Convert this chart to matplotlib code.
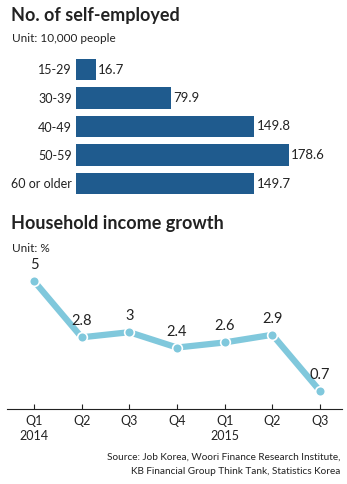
import matplotlib
matplotlib.use("Agg")
import matplotlib.pyplot as plt

plt.rcParams["font.family"] = ["Lato", "DejaVu Sans"]

# ── Data ────────────────────────────────────────────────────
age_groups = ["15-29", "30-39", "40-49", "50-59", "60 or older"]
self_employed = [16.7, 79.9, 149.8, 178.6, 149.7]

quarters = ["Q1\n2014", "Q2", "Q3", "Q4", "Q1\n2015", "Q2", "Q3"]
income_growth = [5, 2.8, 3, 2.4, 2.6, 2.9, 0.7]
growth_labels = ["5", "2.8", "3", "2.4", "2.6", "2.9", "0.7"]

BAR_COLOR = "#1f5b8e"
LINE_COLOR = "#80c8dc"
TEXT_COLOR = "#222222"

W, H = 347, 484
fig = plt.figure(figsize=(W / 100, H / 100), dpi=100, facecolor="white")


def px_axes(left, top, right, bottom):
    return fig.add_axes([left / W, 1 - bottom / H, (right - left) / W, (bottom - top) / H])


# ── Titles ──────────────────────────────────────────────────
fig.text(11 / W, 1 - 16 / H, "No. of self-employed", fontsize=13, fontweight="bold",
         color=TEXT_COLOR, va="center", ha="left")
fig.text(12 / W, 1 - 38 / H, "Unit: 10,000 people", fontsize=8.5,
         color=TEXT_COLOR, va="center", ha="left")
fig.text(11 / W, 1 - 223 / H, "Household income growth", fontsize=13, fontweight="bold",
         color=TEXT_COLOR, va="center", ha="left")
fig.text(12 / W, 1 - 249 / H, "Unit: %", fontsize=8.5,
         color=TEXT_COLOR, va="center", ha="left")

# ── Bar chart ───────────────────────────────────────────────
ax1 = px_axes(76, 55.25, 340, 197.75)
ypos = range(len(age_groups))
ax1.barh(ypos, self_employed, height=0.74, color=BAR_COLOR, left=0)
ax1.set_xlim(0, 221.7)
ax1.set_ylim(4.5, -0.5)
ax1.set_yticks(list(ypos))
ax1.set_yticklabels(age_groups, fontsize=9, color=TEXT_COLOR)
ax1.tick_params(axis="y", length=0, pad=3)
ax1.set_xticks([])
for s in ax1.spines.values():
    s.set_visible(False)
for y, v in zip(ypos, self_employed):
    ax1.text(v + 2, y, f"{v}", va="center", ha="left", fontsize=9.5, color=TEXT_COLOR)

# ── Line chart ──────────────────────────────────────────────
ax2 = px_axes(7, 260, 342, 409)
xs = range(len(quarters))
ax2.plot(xs, income_growth, color=LINE_COLOR, linewidth=4.5, solid_capstyle="butt",
         marker="o", markersize=7, markerfacecolor=LINE_COLOR,
         markeredgecolor="white", markeredgewidth=1.2, zorder=3)
ax2.set_xlim(-0.566, 6.46)
ax2.set_ylim(0, 5.82)
for x, y, lab in zip(xs, income_growth, growth_labels):
    ax2.annotate(lab, (x, y), xytext=(0, 6.5), textcoords="offset points",
                 ha="center", va="bottom", fontsize=10.5, color=TEXT_COLOR, zorder=4)
ax2.set_xticks(list(xs))
ax2.set_xticklabels(quarters, fontsize=9, color=TEXT_COLOR, linespacing=1.35)
ax2.tick_params(axis="x", direction="in", length=3.5, width=0.8, color=TEXT_COLOR, pad=4)
ax2.set_yticks([])
for side in ("left", "right", "top"):
    ax2.spines[side].set_visible(False)
ax2.spines["bottom"].set_color(TEXT_COLOR)
ax2.spines["bottom"].set_linewidth(0.8)
ax2.patch.set_alpha(0)

# ── Source ──────────────────────────────────────────────────
fig.text(340 / W, 1 - 457 / H, "Source: Job Korea, Woori Finance Research Institute,",
         fontsize=7.2, color=TEXT_COLOR, ha="right", va="center")
fig.text(340 / W, 1 - 472 / H, "KB Financial Group Think Tank, Statistics Korea",
         fontsize=7.2, color=TEXT_COLOR, ha="right", va="center")

fig.savefig("out.png", dpi=100, facecolor="white")
